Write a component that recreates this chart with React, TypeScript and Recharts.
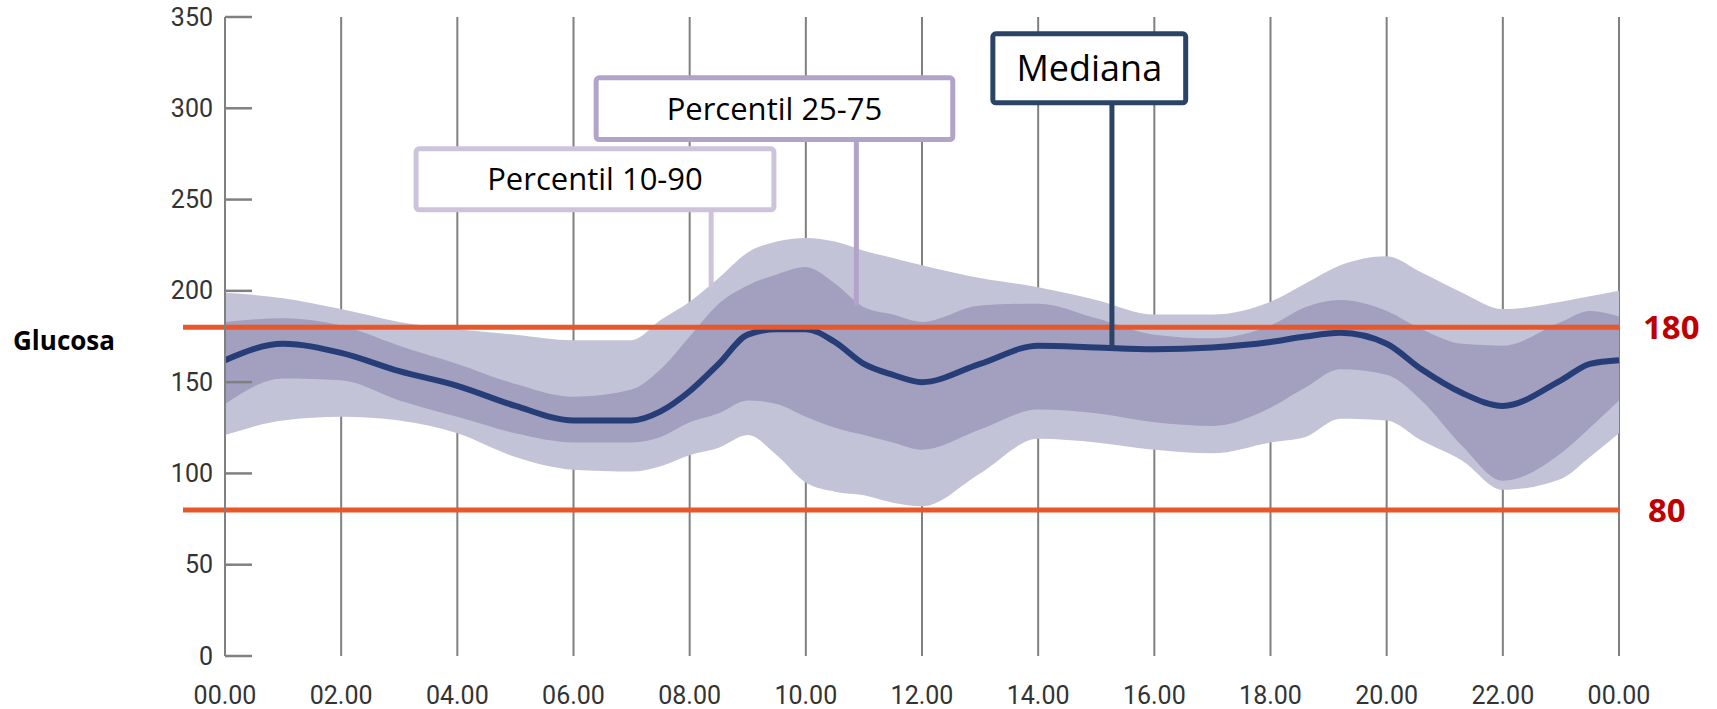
import React from "react";
import {
  ComposedChart,
  Area,
  Line,
  XAxis,
  YAxis,
  CartesianGrid,
  ReferenceLine,
  ReferenceArea,
} from "recharts";

// horas del día y percentiles de glucosa (mg/dL)
const horas = [0, 1, 2, 3, 4, 5, 6, 7, 7.5, 8, 8.5, 9, 9.5, 10, 10.5, 11, 11.5, 12, 13, 14, 15, 16, 17, 18, 18.6, 19.2, 20, 20.6, 21.3, 22, 23, 23.5, 24];
const mediana = [162, 171, 166, 156, 148, 137, 129, 129, 134, 145, 160, 176, 179, 179, 172, 160, 154, 150, 160, 170, 169, 168, 169, 172, 175, 177, 171, 157, 144, 137, 151, 160, 162];
const p25 = [138, 152, 151, 140, 131, 122, 117, 117, 120, 128, 133, 140, 138, 131, 125, 121, 117, 113, 124, 135, 133, 128, 126, 136, 147, 157, 154, 140, 115, 96, 111, 125, 140];
const p75 = [183, 185, 181, 170, 160, 149, 142, 146, 157, 175, 193, 203, 209, 213, 204, 191, 187, 183, 192, 193, 185, 176, 174, 181, 191, 195, 189, 179, 171, 170, 183, 189, 186];
const p10 = [121, 129, 131, 129, 122, 109, 102, 101, 104, 110, 114, 121, 110, 95, 90, 88, 84, 82, 100, 119, 117, 113, 111, 117, 120, 130, 129, 118, 107, 91, 97, 109, 122];
const p90 = [199, 196, 190, 183, 179, 176, 173, 173, 184, 194, 207, 221, 227, 229, 227, 222, 218, 214, 207, 202, 195, 187, 187, 194, 204, 214, 219, 210, 199, 190, 194, 197, 200];

const ticksX = [0, 2, 4, 6, 8, 10, 12, 14, 16, 18, 20, 22, 24];
const etiquetasX = ["00.00", "02.00", "04.00", "06.00", "08.00", "10.00", "12.00", "14.00", "16.00", "18.00", "20.00", "22.00", "00.00"];
const ticksY = [0, 50, 100, 150, 200, 250, 300, 350];
const limiteAlto = 180;
const limiteBajo = 80;

const datos = horas.map((h, i) => ({
  h,
  exterior: [p10[i], p90[i]],
  interior: [p25[i], p75[i]],
  mediana: mediana[i],
}));

// cajas de anotación (en unidades de hora / mg/dL)
const cajas = [
  { texto: "Percentil 10-90", x1: 3.29, x2: 9.45, y1: 244.4, y2: 277.8, color: "#CDC4DC", size: 31, px: 8.37, py: 202 },
  { texto: "Percentil 25-75", x1: 6.39, x2: 12.53, y1: 282.9, y2: 316.7, color: "#B2A3C9", size: 31, px: 10.87, py: 192 },
  { texto: "Mediana", x1: 13.22, x2: 16.54, y1: 303, y2: 340.8, color: "#2B4466", size: 36, px: 15.27, py: 169 },
];

const TickY = (props: any) => {
  const { x, y, payload } = props;
  return (
    <g>
      <line x1={x} y1={y} x2={x + 27} y2={y} stroke="#808080" strokeWidth={2.5} />
      <text x={x - 12} y={y} textAnchor="end" dominantBaseline="central" fontSize={25} fontFamily="Roboto" fill="#333">
        {payload.value}
      </text>
    </g>
  );
};

const TickX = (props: any) => {
  const { x, y, payload, index } = props;
  return (
    <text x={x} y={y + 39} textAnchor="middle" dominantBaseline="central" fontSize={25} fontFamily="Roboto" fill="#333">
      {etiquetasX[index] ?? payload.value}
    </text>
  );
};

const lineaLimite = (p: any) => (
  <line x1={p.x1 - 42} y1={p.y1} x2={p.x2} y2={p.y2} stroke="#E8562A" strokeWidth={5} />
);

export default function App() {
  return (
    <div style={{ position: "absolute", left: 0, top: 0 }}>
      <ComposedChart width={1717} height={709} data={datos} margin={{ top: 17, right: 98, bottom: 13, left: 165 }}>
        <XAxis
          dataKey="h"
          type="number"
          domain={[0, 24]}
          ticks={ticksX}
          interval={0}
          axisLine={false}
          tickLine={false}
          tickSize={0}
          tickMargin={0}
          height={40}
          tick={<TickX />}
        />
        <YAxis
          type="number"
          domain={[0, 350]}
          ticks={ticksY}
          interval={0}
          width={60}
          axisLine={{ stroke: "#808080", strokeWidth: 2 }}
          tickLine={false}
          tickSize={0}
          tickMargin={0}
          tick={<TickY />}
          label={{
            content: (p: any) => (
              <text
                x={p.viewBox.x - 50}
                y={p.viewBox.y + p.viewBox.height / 2 + 13}
                textAnchor="end"
                fontSize={26}
                fontWeight={700}
                fontFamily="Open Sans"
                fill="#000"
              >
                Glucosa
              </text>
            ),
          }}
        />
        <Area type="monotone" dataKey="exterior" stroke="none" fill="#C2C3D6" fillOpacity={1} isAnimationActive={false} />
        <Area type="monotone" dataKey="interior" stroke="none" fill="#A29FBF" fillOpacity={1} isAnimationActive={false} />
        <CartesianGrid horizontal={false} stroke="#808080" strokeWidth={2} />
        <Line type="monotone" dataKey="mediana" stroke="#263D78" strokeWidth={6} dot={false} activeDot={false} isAnimationActive={false} />
        <ReferenceLine
          y={limiteAlto}
          shape={lineaLimite}
          label={{ value: String(limiteAlto), position: "right", offset: 24, fill: "#C00000", fontSize: 33, fontWeight: 700, fontFamily: "Open Sans" }}
        />
        <ReferenceLine
          y={limiteBajo}
          shape={lineaLimite}
          label={{ value: String(limiteBajo), position: "right", offset: 29, fill: "#C00000", fontSize: 33, fontWeight: 700, fontFamily: "Open Sans" }}
        />
        {cajas.map((c) => (
          <ReferenceLine
            key={c.texto + "-l"}
            segment={[
              { x: c.px, y: c.y1 },
              { x: c.px, y: c.py },
            ]}
            stroke={c.color}
            strokeWidth={5}
          />
        ))}
        {cajas.map((c) => (
          <ReferenceArea
            key={c.texto}
            x1={c.x1}
            x2={c.x2}
            y1={c.y1}
            y2={c.y2}
            fill="#FFFFFF"
            fillOpacity={1}
            stroke={c.color}
            strokeWidth={5}
            radius={3}
            label={{ value: c.texto, position: "center", fill: "#000", fontSize: c.size, fontFamily: "Open Sans" }}
          />
        ))}
      </ComposedChart>
    </div>
  );
}
